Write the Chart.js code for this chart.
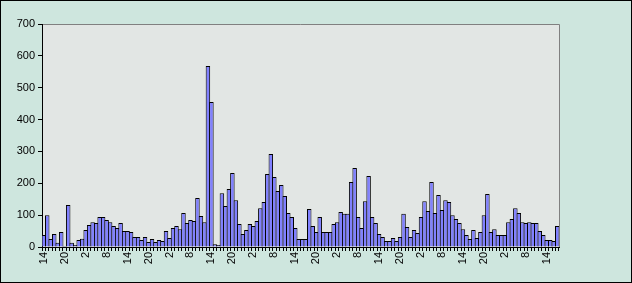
<!DOCTYPE html>
<html>
<head>
<meta charset="utf-8">
<script src="https://cdn.jsdelivr.net/npm/chart.js@4"></script>
<style>body{margin:0;background:#cee6de}</style>
</head>
<body>
<canvas id="myChart" width="632" height="283"></canvas>
<script>
// hour of day for each bar (starts at 14:00)
var hours = [14,15,16,17,18,19,20,21,22,23,0,1,2,3,4,5,6,7,8,9,10,11,12,13,
  14,15,16,17,18,19,20,21,22,23,0,1,2,3,4,5,6,7,8,9,10,11,12,13,
  14,15,16,17,18,19,20,21,22,23,0,1,2,3,4,5,6,7,8,9,10,11,12,13,
  14,15,16,17,18,19,20,21,22,23,0,1,2,3,4,5,6,7,8,9,10,11,12,13,
  14,15,16,17,18,19,20,21,22,23,0,1,2,3,4,5,6,7,8,9,10,11,12,13,
  14,15,16,17,18,19,20,21,22,23,0,1,2,3,4,5,6,7,8,9,10,11,12,13,
  14,15,16,17];
var values = [38,100,25,41,13,47,3,132,13,6,22,26,53,69,78,75,94,94,85,78,66,60,75,50,
  50,47,31,31,22,31,16,25,16,22,19,50,28,60,66,56,107,75,85,82,154,97,78,568,
  455,9,6,169,129,182,232,147,72,41,53,72,66,82,122,141,229,292,220,176,195,160,107,94,
  60,25,25,25,119,66,47,94,47,47,47,72,78,110,104,104,204,248,94,60,144,223,94,75,
  41,31,19,19,28,19,31,104,63,31,53,44,94,144,113,204,107,163,116,147,141,100,88,75,
  56,38,25,53,28,47,100,166,47,56,38,38,38,78,88,122,107,78,75,78,75,75,50,38,
  22,22,19,66];
var labelEvery = 6;

var frame = {
  id: 'frame',
  beforeDraw: function(chart) {
    var c = chart.ctx, a = chart.chartArea;
    c.save();
    c.fillStyle = '#cee6de';
    c.fillRect(0, 0, chart.width, chart.height);
    c.fillStyle = '#e2e6e4';
    c.fillRect(a.left, a.top, a.right - a.left, a.bottom - a.top);
    c.strokeStyle = '#808080';
    c.lineWidth = 1;
    c.beginPath();
    c.moveTo(a.left, a.top + 0.5);
    c.lineTo(a.right + 0.5, a.top + 0.5);
    c.lineTo(a.right + 0.5, a.bottom);
    c.stroke();
    c.strokeStyle = '#000';
    c.strokeRect(0.5, 0.5, chart.width - 1, chart.height - 1);
    c.restore();
  }
};

var ctx = document.getElementById('myChart').getContext('2d');
var myChart = new Chart(ctx, {
  type: 'bar',
  data: {
    labels: hours,
    datasets: [{
      data: values,
      backgroundColor: '#8080ff',
      borderColor: '#000',
      borderWidth: 1,
      barPercentage: 1,
      categoryPercentage: 1.287
    }]
  },
  options: {
    responsive: false,
    animation: false,
    layout: { padding: { left: 0, top: 24, right: 73, bottom: 0 } },
    plugins: { legend: { display: false }, tooltip: { enabled: false } },
    scales: {
      x: {
        grid: { display: true, drawOnChartArea: false, drawTicks: true, tickLength: 4, color: '#000', offset: true },
        border: { color: '#000' },
        ticks: {
          autoSkip: false, maxRotation: 90, minRotation: 90, padding: 1, color: '#000',
          font: { family: 'Liberation Sans, Arial', size: 11 },
          callback: function(v, i) { return i % labelEvery === 0 ? String(hours[i]) : ''; }
        },
        afterFit: function(s) { s.height = 36; }
      },
      y: {
        min: 0, max: 700,
        grid: { drawOnChartArea: false, tickLength: 4, color: '#000' },
        border: { color: '#000' },
        ticks: { stepSize: 100, padding: 3, color: '#000', font: { family: 'Liberation Sans, Arial', size: 11 } },
        afterFit: function(s) { s.width = 42; }
      }
    }
  },
  plugins: [frame]
});
</script>
</body>
</html>
